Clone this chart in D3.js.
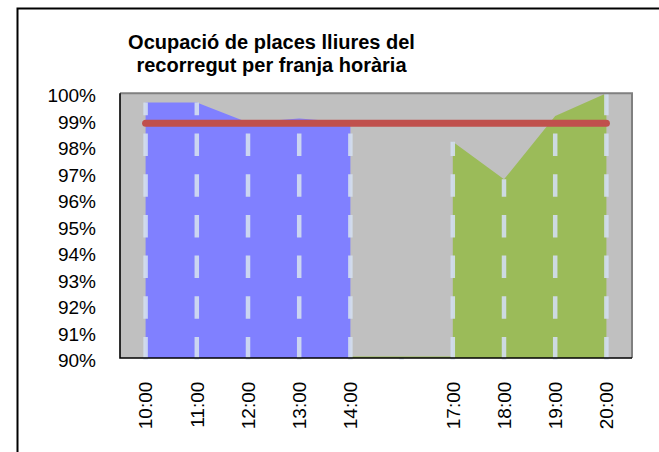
<!DOCTYPE html>
<html>
<head>
<meta charset="utf-8">
<script src="https://cdn.jsdelivr.net/npm/d3@7"></script>
<style>
  html, body { margin: 0; padding: 0; background: #ffffff; }
  svg { display: block; }
  text { font-family: "Liberation Sans", Arial, sans-serif; fill: #000; }
</style>
</head>
<body>
<svg id="chart" width="659" height="452"></svg>
<script>
// ---- data ----
const categories = ["10:00", "11:00", "12:00", "13:00", "14:00", "", "17:00", "18:00", "19:00", "20:00"];
const morning   = [99.65, 99.65, 98.9, 99.05, 98.9, null, null, null, null, null];
const afternoon = [null, null, null, null, null, null, 98.17, 96.75, 99.14, 100];
const target    = [98.87, 98.87, 98.87, 98.87, 98.87, 98.87, 98.87, 98.87, 98.87, 98.87];
const yTicks    = [90, 91, 92, 93, 94, 95, 96, 97, 98, 99, 100];
const title     = ["Ocupació de places lliures del", "recorregut per franja horària"];

// ---- layout ----
const svg = d3.select("#chart");
const plot = { left: 120, right: 632, top: 93.3, bottom: 358 };

// outer chart border
svg.append("rect")
  .attr("x", 17.5).attr("y", 8.5)
  .attr("width", 700).attr("height", 500)
  .attr("fill", "#fff").attr("stroke", "#000").attr("stroke-width", 2);

// title
svg.append("text")
  .attr("text-anchor", "middle")
  .attr("font-size", 20).attr("font-weight", "bold")
  .selectAll("tspan").data(title).join("tspan")
  .attr("x", 271.5)
  .attr("y", (d, i) => 49 + i * 23)
  .text(d => d);

const idx = categories.map((d, i) => i);
const x = d3.scaleBand().domain(idx).range([plot.left, plot.right]).paddingInner(0).paddingOuter(0);
const cx = i => x(i) + x.bandwidth() / 2;
const y = d3.scaleLinear().domain([90, 100]).range([plot.bottom, plot.top]);

// plot background
svg.append("rect")
  .attr("x", plot.left).attr("y", plot.top)
  .attr("width", plot.right - plot.left).attr("height", plot.bottom - plot.top)
  .attr("fill", "#c0c0c0");

const clip = svg.append("clipPath").attr("id", "plotclip")
  .append("rect")
  .attr("x", plot.left).attr("y", plot.top - 1)
  .attr("width", plot.right - plot.left).attr("height", plot.bottom - plot.top + 1);

const g = svg.append("g").attr("clip-path", "url(#plotclip)");

const area = d3.area()
  .defined(d => d != null)
  .x((d, i) => cx(i))
  .y0(y(90))
  .y1(d => y(d));

// thin green baseline under the blank part of the afternoon series
const firstAfternoon = afternoon.findIndex(d => d != null);
g.append("rect")
  .attr("x", cx(0)).attr("y", y(90) - 1.5)
  .attr("width", cx(firstAfternoon) - cx(0)).attr("height", 1.5)
  .attr("fill", "#9bbb59");

g.append("path").datum(afternoon).attr("d", area).attr("fill", "#9bbb59");
g.append("path").datum(morning).attr("d", area).attr("fill", "#8080ff");

// drop lines
const dropTop = idx.map(i => {
  const v = [morning[i], afternoon[i]].filter(d => d != null);
  return v.length ? d3.max(v) : 90;
});
svg.append("g").selectAll("line").data(idx).join("line")
  .attr("x1", i => cx(i)).attr("x2", i => cx(i))
  .attr("y1", y(90) + 1.5)
  .attr("y2", i => y(dropTop[i]))
  .attr("stroke", "#d3def0")
  .attr("stroke-opacity", 0.9)
  .attr("stroke-width", 4.5)
  .attr("stroke-dasharray", "22.5 18.2");

// target line
const line = d3.line().x((d, i) => cx(i)).y(d => y(d));
svg.append("path").datum(target).attr("d", line)
  .attr("fill", "none").attr("stroke", "#c0504d")
  .attr("stroke-width", 7).attr("stroke-linecap", "round");

// plot border: gray top/right, black axes left/bottom
svg.append("path")
  .attr("d", `M${plot.left},${plot.top}H${plot.right}V${plot.bottom}`)
  .attr("fill", "none").attr("stroke", "#808080").attr("stroke-width", 2);
svg.append("path")
  .attr("d", `M${plot.left},${plot.top}V${plot.bottom}H${plot.right}`)
  .attr("fill", "none").attr("stroke", "#000").attr("stroke-width", 1.6);

// y axis labels
const yAxis = d3.axisLeft(y).tickValues(yTicks).tickSize(0).tickPadding(0)
  .tickFormat(d => d + "%");
const ya = svg.append("g").attr("transform", `translate(96,0)`).call(yAxis);
ya.select(".domain").remove();
ya.selectAll("text")
  .attr("font-size", 19).attr("font-family", "Liberation Sans, Arial, sans-serif")
  .attr("fill", "#000").attr("dy", "0.45em");

// x axis labels (rotated)
const xAxis = d3.axisBottom(x).tickSize(0).tickPadding(0).tickFormat(i => categories[i]);
const xa = svg.append("g").attr("transform", `translate(0,0)`).call(xAxis);
xa.select(".domain").remove();
xa.selectAll(".tick").attr("transform", i => `translate(${cx(i)},381.7)`);
xa.selectAll("text")
  .attr("font-size", 19).attr("font-family", "Liberation Sans, Arial, sans-serif")
  .attr("fill", "#000")
  .attr("transform", "rotate(-90)")
  .attr("text-anchor", "end")
  .attr("x", 0).attr("y", 0).attr("dy", "0.36em");
</script>
</body>
</html>
